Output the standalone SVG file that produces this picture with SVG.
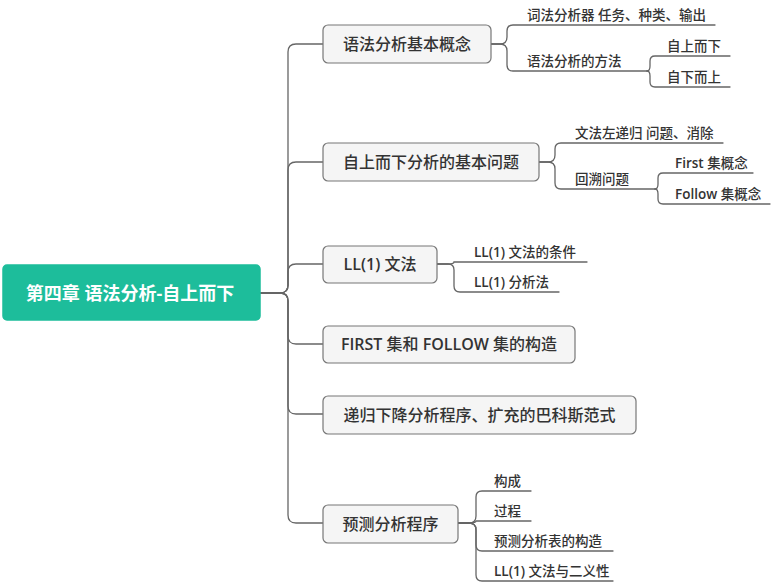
<svg xmlns="http://www.w3.org/2000/svg" width="773" height="583" viewBox="0 0 773 583">
<style>
text{font-family:"Open Sans","Noto Sans CJK SC",sans-serif;fill:#333}
.root{fill:#1dbd9b;stroke:#1dbd9b;stroke-width:1.5}
.rt{fill:#fff;font-size:18px;font-weight:bold}
.box{fill:#f5f5f5;stroke:#777;stroke-width:1.2}
.mt{font-size:16px;font-weight:500;text-anchor:middle}
.st{font-size:13.5px;font-weight:500}
.l{font-weight:600}
.c path{fill:none;stroke:#666;stroke-width:1.3;stroke-linecap:round}
</style>
<rect width="773" height="583" fill="#fff"/>
<g class="c" id="connectors">
<path d="M261,293 H280 Q288,293 288,285 V52 Q288,44 296,44 H323"/>
<path d="M261,293 H280 Q288,293 288,285 V170 Q288,162 296,162 H323"/>
<path d="M261,293 H280 Q288,293 288,285 V272 Q288,264 296,264 H323"/>
<path d="M261,293 H280 Q288,293 288,301 V336 Q288,344 296,344 H323"/>
<path d="M261,293 H280 Q288,293 288,301 V406 Q288,414 296,414 H323"/>
<path d="M261,293 H280 Q288,293 288,301 V515 Q288,523 296,523 H323"/>
<path d="M491,44 H500 Q507,44 507,37 V31 Q507,25 513,25 H715"/>
<path d="M491,44 H500 Q507,44 507,51 V65 Q507,71 513,71 H647"/>
<path d="M647,71 Q650,71 650,66 V61 Q650,56 655,56 H730"/>
<path d="M647,71 Q650,71 650,76 V82 Q650,87 655,87 H730"/>
<path d="M539,162 H548 Q555,162 555,155 V149 Q555,143 561,143 H723"/>
<path d="M539,162 H548 Q555,162 555,169 V183 Q555,189 561,189 H655"/>
<path d="M655,189 Q658,189 658,184 V178 Q658,173 663,173 H753"/>
<path d="M655,189 Q658,189 658,194 V199 Q658,204 663,204 H770"/>
<path d="M437,264 H448 Q454,264 454,262 H587"/>
<path d="M437,264 H448 Q454,264 454,270 V286 Q454,292 460,292 H559"/>
<path d="M458,523 H469 Q476,523 476,516 V497 Q476,491 482,491 H531"/>
<path d="M458,523 H469 Q476,523 476,521 H531"/>
<path d="M458,523 H469 Q476,523 476,530 V545 Q476,551 482,551 H613"/>
<path d="M458,523 H469 Q476,523 476,530 V575 Q476,581 482,581 H613"/>
</g>
<g id="root">
<rect class="root" x="3" y="265" width="257" height="55" rx="4"/>
<text class="rt" x="130" y="300" text-anchor="middle">第四章 语法分析-自上而下</text>
</g>
<g id="n1">
<rect class="box" x="323" y="25" width="168" height="38" rx="5"/>
<text class="mt" x="407" y="50">语法分析基本概念</text>
</g>
<g id="n1a"><text class="st" x="527" y="20">词法分析器 任务、种类、输出</text></g>
<g id="n1b"><text class="st" x="527" y="66">语法分析的方法</text></g>
<g id="n1b1"><text class="st" x="667" y="51">自上而下</text></g>
<g id="n1b2"><text class="st" x="667" y="82">自下而上</text></g>
<g id="n2">
<rect class="box" x="323" y="143" width="216" height="38" rx="5"/>
<text class="mt" x="431" y="168">自上而下分析的基本问题</text>
</g>
<g id="n2a"><text class="st" x="575" y="138">文法左递归 问题、消除</text></g>
<g id="n2b"><text class="st" x="575" y="184">回溯问题</text></g>
<g id="n2b1"><text class="st" x="675" y="168"><tspan class="l">First</tspan> 集概念</text></g>
<g id="n2b2"><text class="st" x="675" y="199"><tspan class="l">Follow</tspan> 集概念</text></g>
<g id="n3">
<rect class="box" x="323" y="246" width="114" height="37" rx="5"/>
<text class="mt" x="380" y="270"><tspan class="l">LL(1)</tspan> 文法</text>
</g>
<g id="n3a"><text class="st" x="474" y="257"><tspan class="l">LL(1)</tspan> 文法的条件</text></g>
<g id="n3b"><text class="st" x="474" y="287"><tspan class="l">LL(1)</tspan> 分析法</text></g>
<g id="n4">
<rect class="box" x="323" y="326" width="252" height="37" rx="5"/>
<text class="mt" x="449" y="350"><tspan class="l">FIRST</tspan> 集和 <tspan class="l">FOLLOW</tspan> 集的构造</text>
</g>
<g id="n5">
<rect class="box" x="323" y="396" width="313" height="38" rx="5"/>
<text class="mt" x="479.500" y="421">递归下降分析程序、扩充的巴科斯范式</text>
</g>
<g id="n6">
<rect class="box" x="323" y="505" width="135" height="38" rx="5"/>
<text class="mt" x="390.500" y="530">预测分析程序</text>
</g>
<g id="n6a"><text class="st" x="494" y="486">构成</text></g>
<g id="n6b"><text class="st" x="494" y="516">过程</text></g>
<g id="n6c"><text class="st" x="494" y="546">预测分析表的构造</text></g>
<g id="n6d"><text class="st" x="494" y="576"><tspan class="l">LL(1)</tspan> 文法与二义性</text></g>
</svg>
